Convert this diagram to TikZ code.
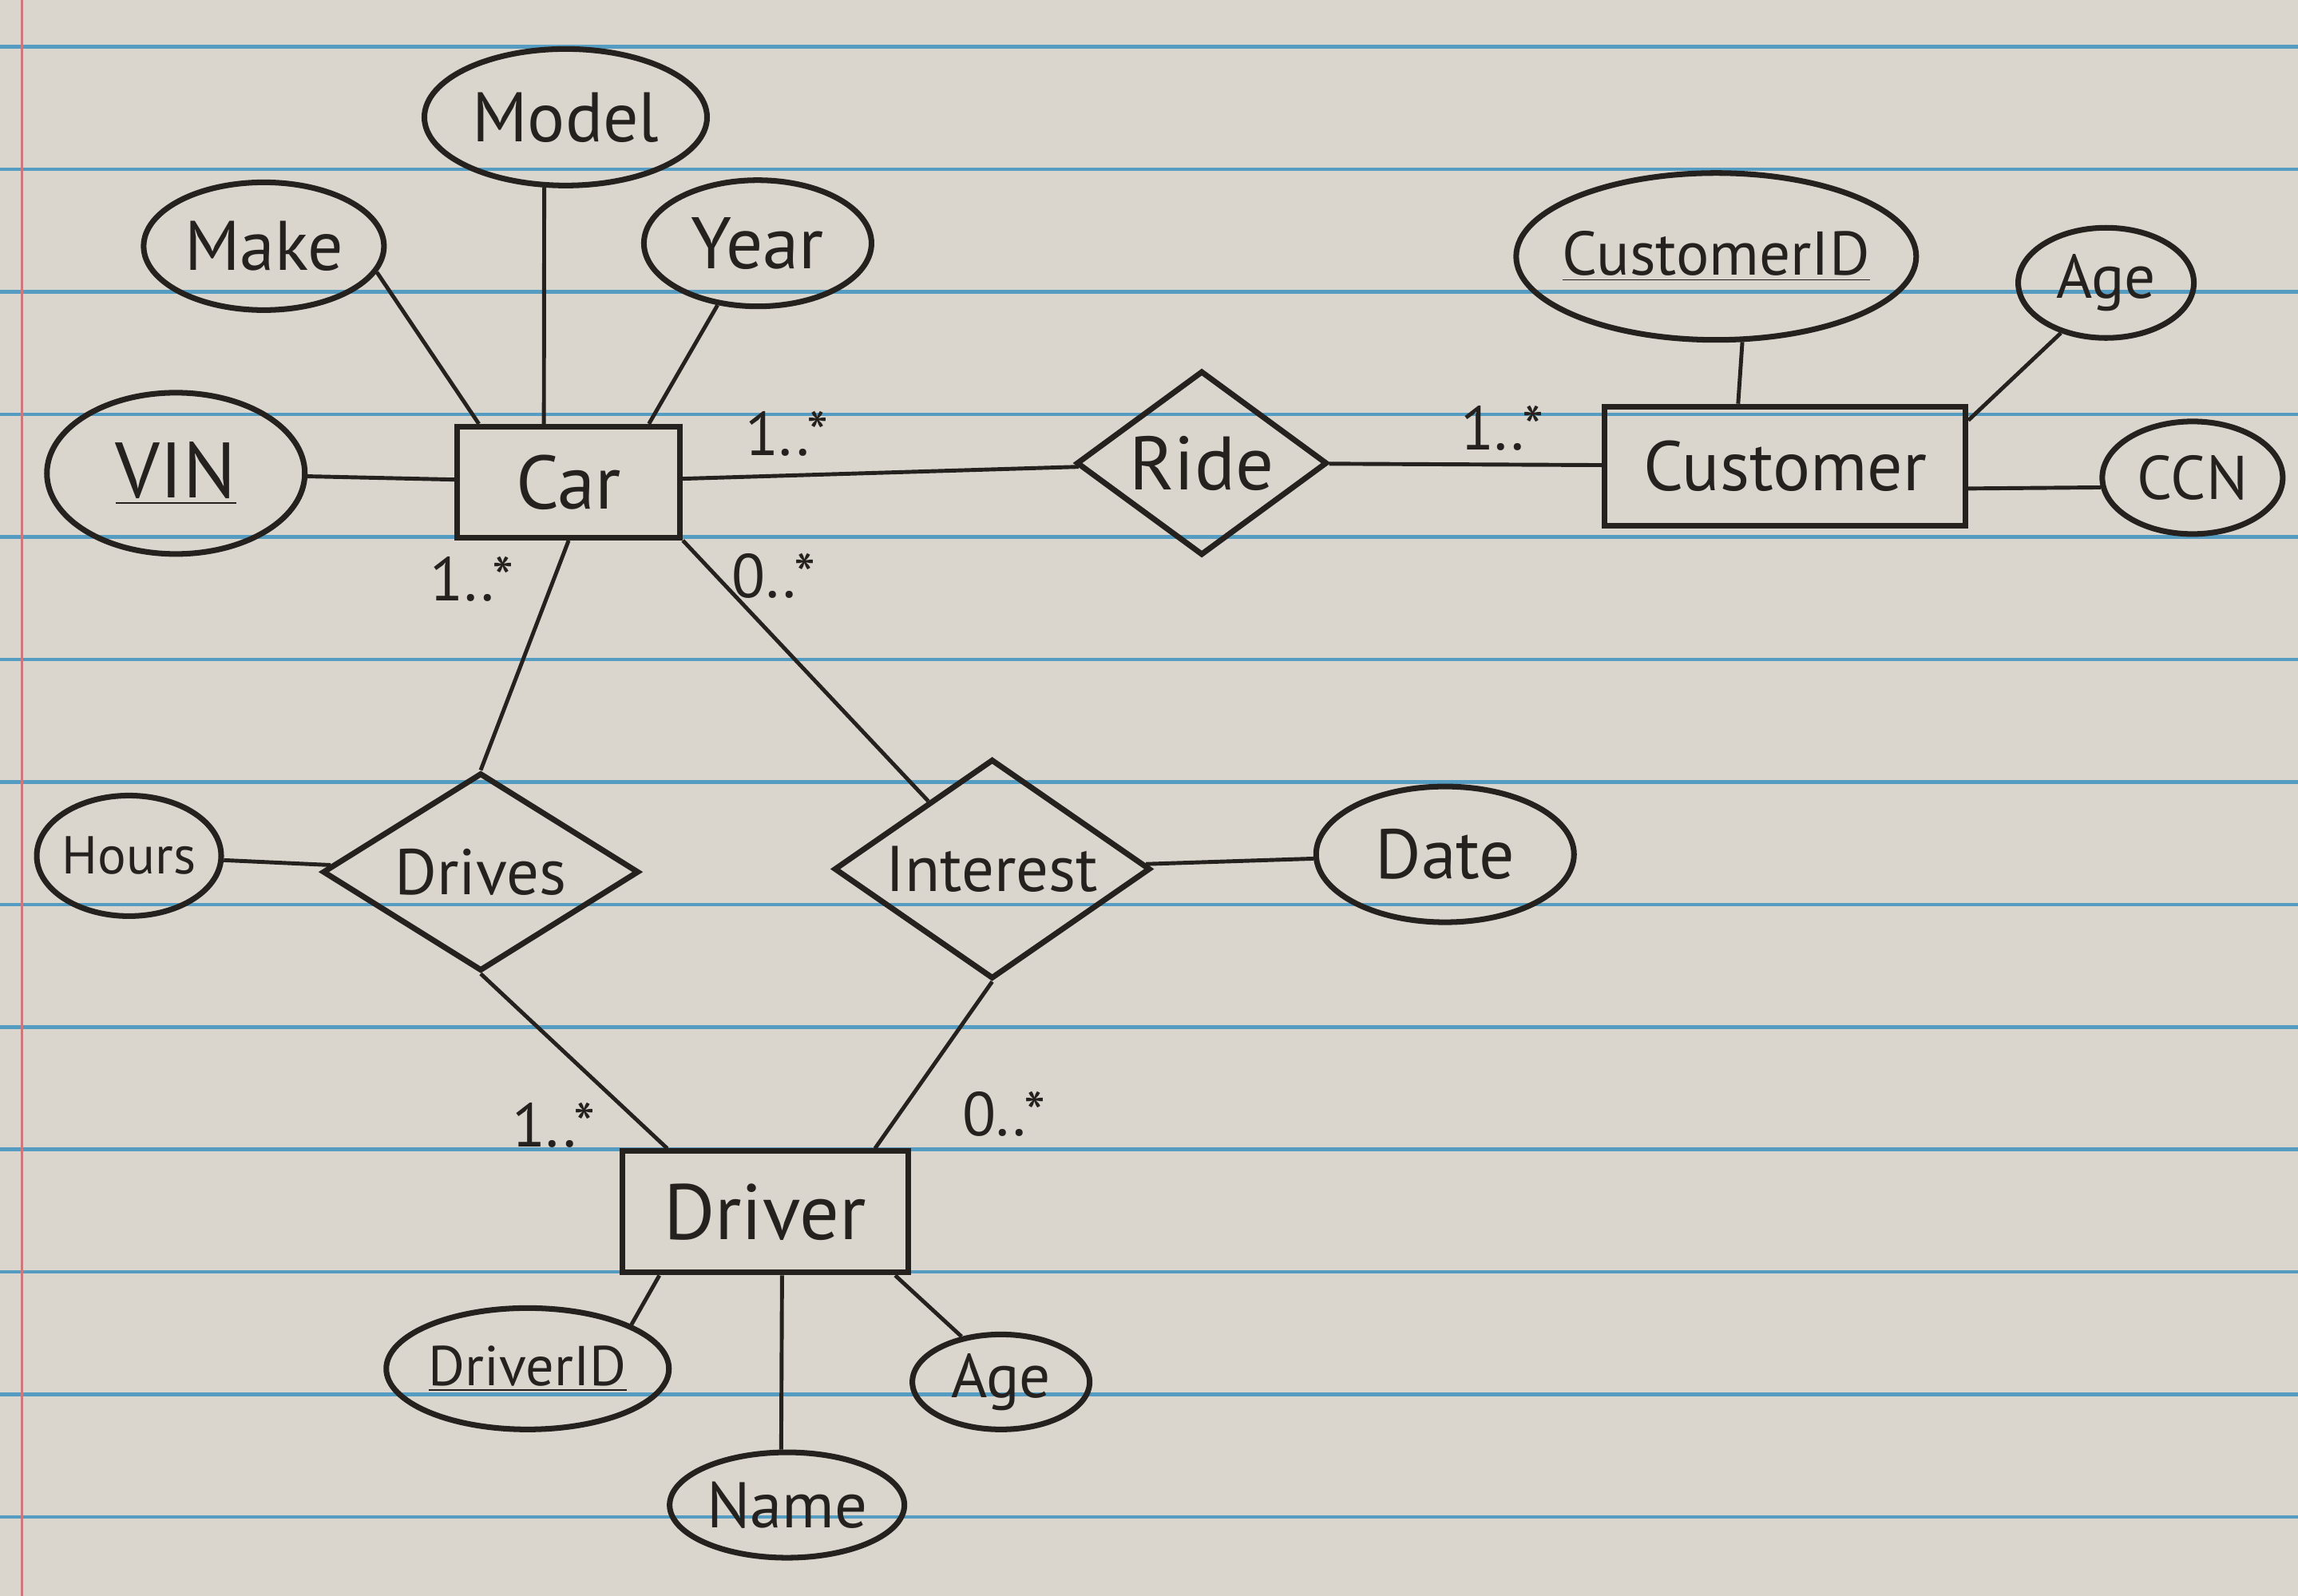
\documentclass[tikz,border=0pt]{standalone}
\usepackage{fontspec}
\setmainfont{PT Sans}
\usetikzlibrary{shapes.geometric}

\newcommand*{\paperw}{1568}
\newcommand*{\paperh}{1089}
\newcommand*{\fsize}[1]{\fontsize{#1}{#1}\selectfont}

\definecolor{paperbg}{RGB}{218,213,205}
\definecolor{ruleblue}{RGB}{84,156,194}
\definecolor{marginred}{RGB}{205,120,125}
\definecolor{ink}{RGB}{36,33,31}

\begin{document}
\begin{tikzpicture}
[
	x=0.18355mm, y=-0.18355mm,
	fixed/.style={inner sep=0pt, execute at begin node={\hbox to 0pt\bgroup\hss}, execute at end node={\hss\egroup}},
	entity/.style={fixed,rectangle,draw=ink,line width=2pt,text=ink,font=\fsize{27}},
	attr/.style={fixed,ellipse,draw=ink,line width=2pt,text=ink,font=\fsize{24}},
	rel/.style={fixed,diamond,draw=ink,line width=2pt,text=ink,font=\fsize{25}},
	mult/.style={text=ink,font=\fsize{22},inner sep=1pt},
	link/.style={draw=ink,line width=1.4pt}
]

	% lined paper
	\useasboundingbox (0,0) rectangle (\paperw,\paperh);
	\fill[paperbg] (0,0) rectangle (\paperw,\paperh);
	\foreach \k in {0,...,12}
		\draw[ruleblue,line width=1.3pt] (0,{32+83.6*\k}) -- (\paperw,{32+83.6*\k});
	\draw[marginred,line width=0.8pt] (15,0) -- (15,\paperh);

	% entities
	\node[entity,minimum width=2.79cm,minimum height=1.39cm] (car) at (388,329) {Car};
	\node[entity,minimum width=4.52cm,minimum height=1.49cm,font=\fsize{25}] (customer) at (1218,318) {Customer};
	\node[entity,minimum width=3.58cm,minimum height=1.52cm,font=\fsize{28}] (driver) at (522,827) {Driver};

	% relationships
	\node[rel,minimum width=3.14cm,minimum height=2.31cm,font=\fsize{27}] (ride) at (820,316) {Ride};
	\node[rel,minimum width=3.96cm,minimum height=2.48cm,font=\fsize{23}] (drives) at (328,595) {Drives};
	\node[rel,minimum width=3.96cm,minimum height=2.75cm,font=\fsize{23}] (interest) at (677,593) {Interest};

	% attributes
	\node[attr,minimum width=3.54cm,minimum height=1.71cm,font=\fsize{25}] (model) at (386,80) {Model};
	\node[attr,minimum width=3.01cm,minimum height=1.60cm,font=\fsize{25}] (make) at (180,168) {Make};
	\node[attr,minimum width=2.85cm,minimum height=1.58cm,font=\fsize{26}] (year) at (517,166) {Year};
	\node[attr,minimum width=3.23cm,minimum height=2.02cm,font=\fsize{28}] (vin) at (120,323) {\underline{VIN}};
	\node[attr,minimum width=5.01cm,minimum height=2.09cm,font=\fsize{22}] (custid) at (1171,175) {\underline{CustomerID}};
	\node[attr,minimum width=2.20cm,minimum height=1.38cm,font=\fsize{22}] (custage) at (1437,193) {Age};
	\node[attr,minimum width=2.26cm,minimum height=1.41cm,font=\fsize{22}] (ccn) at (1496,326) {CCN};
	\node[attr,minimum width=2.31cm,minimum height=1.51cm,font=\fsize{19}] (hours) at (88,584) {Hours};
	\node[attr,minimum width=3.23cm,minimum height=1.70cm,font=\fsize{25}] (date) at (986,583) {Date};
	\node[attr,minimum width=3.54cm,minimum height=1.52cm,font=\fsize{20}] (driverid) at (360,934) {\underline{DriverID}};
	\node[attr,minimum width=2.94cm,minimum height=1.32cm,font=\fsize{23}] (name) at (537,1027) {Name};
	\node[attr,minimum width=2.22cm,minimum height=1.19cm,font=\fsize{22}] (drvage) at (683,943) {Age};

	% multiplicities
	\node[mult] (mcarride) at (537,296) {1..*};
	\node[mult] (mcustride) at (1025,292) {1..*};
	\node[mult] (mcardrives) at (322,395) {1..*};
	\node[mult] (mcarint) at (528,393) {0..*};
	\node[mult] (mdrvdrives) at (378,768) {1..*};
	\node[mult] (mdrvint) at (685,760) {0..*};

	% car attributes
	\draw[link] (make.-13) -- (car.147);
	\draw[link] (model.-107) -- (car.113);
	\draw[link] (year.-123) -- (car.36);
	\draw[link] (vin) -- (car);

	% customer attributes
	\draw[link] (custid.-73) -- (customer.127);
	\draw[link] (custage.-132) -- (customer.14);
	\draw[link] (customer.-7) -- (ccn.186);

	% driver attributes
	\draw[link] (driver.-149) -- (driverid.23);
	\draw[link] (driver.-75) -- (name.96);
	\draw[link] (driver.-26) -- (drvage.131);

	% relationships
	\draw[link] (car) -- (ride);
	\draw[link] (ride) -- (customer);
	\draw[link] (car.south) -- (drives.north);
	\draw[link] (car.south east) -- (interest);
	\draw[link] (hours) -- (drives);
	\draw[link] (interest) -- (date);
	\draw[link] (drives.south) -- (driver.147);
	\draw[link] (interest.south) -- (driver.30);

\end{tikzpicture}
\end{document}
